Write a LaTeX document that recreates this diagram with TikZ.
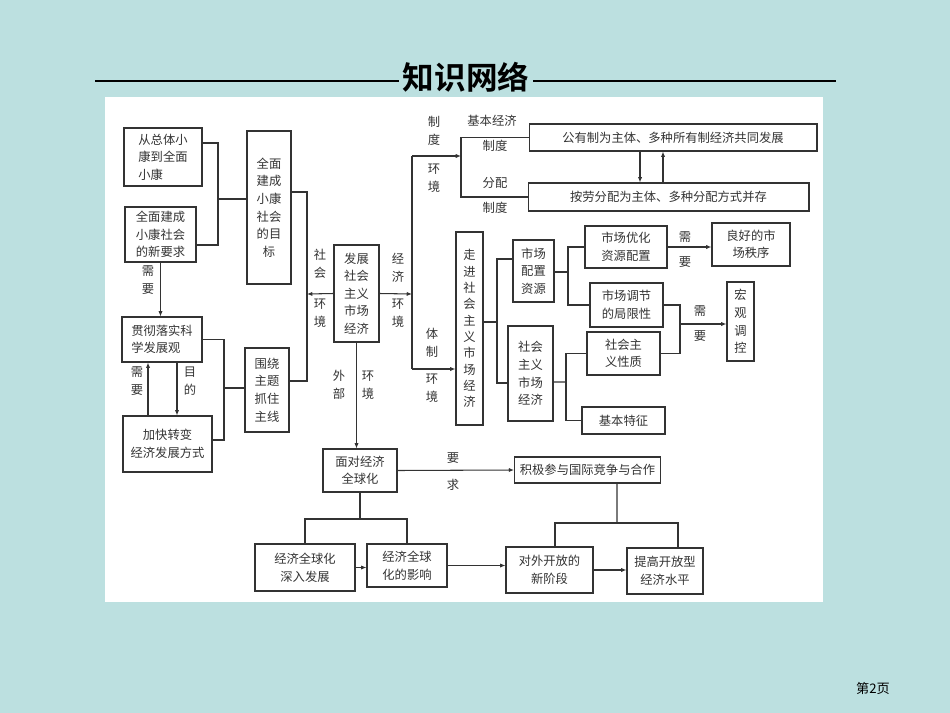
\documentclass[tikz,border=0pt]{standalone}
\usepackage{fontspec}
\setmainfont{Noto Sans CJK SC}[BoldFont={Noto Sans CJK SC Bold}]
\usetikzlibrary{arrows.meta}
\definecolor{pagebg}{HTML}{BCE0E0}
\definecolor{ink}{HTML}{333333}

\begin{document}
\begin{tikzpicture}[
  x=0.02cm, y=-0.02cm,
  font=\fontsize{7pt}{10pt}\selectfont,
  bx/.style={draw=ink, line width=0.6pt, inner sep=1pt, align=center, text=ink},
  lbl/.style={align=center, text=ink, inner sep=0pt},
  line/.style={draw=ink, line width=0.6pt},
  arr/.style={line, -{Latex[length=3pt,width=2.4pt]}}
]
% page and panel
\fill[pagebg] (0,0) rectangle (950,713);
\fill[white] (105,97) rectangle (823,602);
\useasboundingbox (0,0) rectangle (950,713);

% title
\node[inner sep=2pt, font=\fontsize{18pt}{20pt}\selectfont\bfseries] (title) at (466,77) {知识网络};
\draw[line width=1.5pt] (95,81) -- (title.west |- 0,81);
\draw[line width=1.5pt] (title.east |- 0,81) -- (836,81);
\node[font=\fontsize{7.5pt}{9pt}\selectfont] (page) at (873,688) {第2页};

% left part
\node[bx, align=left, minimum width=1.56cm, minimum height=1.16cm] (total) at (163,157) {从总体小\\康到全面\\小康};
\node[bx, minimum width=1.42cm, minimum height=1.10cm] (newreq) at (160.5,234.5) {全面建成\\小康社会\\的新要求};
\node[bx, minimum width=0.88cm, minimum height=3.06cm] (goal) at (269,207.5) {全面\\建成\\小康\\社会\\的目\\标};
\node[bx, align=left, minimum width=1.6cm, minimum height=0.9cm] (sci) at (162,339.5) {贯彻落实科\\学发展观};
\node[bx, minimum width=1.78cm, minimum height=1.12cm] (speed) at (167.5,444) {加快转变\\经济发展方式};
\node[bx, minimum width=0.88cm, minimum height=1.68cm] (theme) at (267,390) {围绕\\主题\\抓住\\主线};
\node[bx, minimum width=0.9cm, minimum height=1.94cm] (dev) at (356.5,293.5) {发展\\社会\\主义\\市场\\经济};

% right top
\node[bx, minimum width=5.76cm, minimum height=0.54cm] (own) at (673,137.5) {公有制为主体、多种所有制经济共同发展};
\node[bx, minimum width=5.62cm, minimum height=0.56cm] (dist) at (668.5,197) {按劳分配为主体、多种分配方式并存};
\node[bx, minimum width=0.54cm, minimum height=3.86cm, font=\fontsize{7pt}{9.3pt}\selectfont] (enter) at (469.5,328.5) {走\\进\\社\\会\\主\\义\\市\\场\\经\\济};
\node[bx, minimum width=0.82cm, minimum height=1.24cm] (alloc) at (533.5,271) {市场\\配置\\资源};
\node[bx, minimum width=0.9cm, minimum height=1.9cm] (socmkt) at (530.5,373.5) {社会\\主义\\市场\\经济};
\node[bx, minimum width=1.64cm, minimum height=0.84cm] (optim) at (626,247) {市场优化\\资源配置};
\node[bx, minimum width=1.46cm, minimum height=0.88cm] (limit) at (626.5,305) {市场调节\\的局限性};
\node[bx, minimum width=1.56cm, minimum height=0.86cm] (order) at (751,244.5) {良好的市\\场秩序};
\node[bx, minimum width=0.54cm, minimum height=1.58cm] (macro) at (740.5,321.5) {宏\\观\\调\\控};
\node[bx, minimum width=1.46cm, minimum height=0.86cm] (nature) at (623.5,353.5) {社会主\\义性质};
\node[bx, minimum width=1.66cm, minimum height=0.54cm] (feature) at (623.5,420.5) {基本特征};

% bottom part
\node[bx, minimum width=1.48cm, minimum height=0.86cm] (face) at (360,470.5) {面对经济\\全球化};
\node[bx, minimum width=2.7cm, minimum height=0.52cm, inner xsep=3pt] (join) at (587.5,470) {积极参与国际竞争与合作};
\node[bx, minimum width=2.0cm, minimum height=0.94cm] (deep) at (305,567.5) {经济全球化\\深入发展};
\node[bx, minimum width=1.6cm, minimum height=0.86cm] (effect) at (407,565.5) {经济全球\\化的影响};
\node[bx, minimum width=1.74cm, minimum height=0.92cm] (open) at (549.5,570) {对外开放的\\新阶段};
\node[bx, minimum width=1.52cm, minimum height=0.92cm] (level) at (665,571) {提高开放型\\经济水平};

% joints
\coordinate (j1) at (218,199);
\coordinate (j2) at (224,388);
\coordinate (j3) at (307,294);
\coordinate (j4) at (412,294);
\coordinate (j5) at (412,156);
\coordinate (j6) at (412,369);
\coordinate (j7) at (461,156);
\coordinate (j8) at (497,322);
\coordinate (j9) at (568,272);
\coordinate (j10) at (680,324);
\coordinate (j11) at (566,382);
\coordinate (j12) at (360,519);
\coordinate (j13) at (617,523);

% connectors left
\draw[line] ([yshift=0.28cm]total.east) -| (j1) |- ([yshift=-0.21cm]newreq.east);
\draw[line] (j1) -- (goal.west |- j1);
\draw[arr] (newreq.south) -- (newreq.south |- sci.north);
\draw[arr] ([xshift=-0.39cm]speed.north) -- ([xshift=-0.39cm]speed.north |- sci.south);
\draw[arr] ([xshift=0.3cm]sci.south) -- ([xshift=0.3cm]sci.south |- speed.north);
\draw[line] (sci.east) -| (j2) |- ([yshift=0.08cm]speed.east);
\draw[line] (j2) -- (theme.west |- j2);
\draw[line] ([yshift=0.31cm]goal.east) -| (j3) |- ([yshift=0.18cm]theme.east);
\draw[arr] (dev.west) -- (j3);
\draw[arr] (dev.east) -- (j4);
\draw[line] (j5) -- (j6);
\draw[arr] (j5) -- (j7);
\draw[line] (own.west) -| (j7) |- (dist.west);
\draw[arr] (j6) -- (enter.west |- j6);
\draw[arr] ([xshift=-0.66cm]own.south) -- ([xshift=-0.66cm]own.south |- dist.north);
\draw[arr] ([xshift=-0.2cm]own.south |- dist.north) -- ([xshift=-0.2cm]own.south);

% connectors right
\draw[line] (enter.east |- j8) -- (j8);
\draw[line] ([yshift=0.24cm]alloc.west) -| (j8) |- ([yshift=-0.19cm]socmkt.west);
\draw[line] (alloc.east |- j9) -- (j9);
\draw[line] (optim.west) -| (j9) |- (limit.west);
\draw[arr] (optim.east) -- (optim.east -| order.west);
\draw[line] (limit.east) -| (j10) |- (nature.east);
\draw[arr] (j10) -- (macro.west |- j10);
\draw[line] ([yshift=-0.17cm]socmkt.east) -- (j11);
\draw[line] (nature.west) -| (j11) |- (feature.west);

% connectors bottom
\draw[arr] (dev.south) -- (dev.south |- face.north);
\draw[arr] (face.east) -- (join.west);
\draw[line] (face.south) -- (j12);
\draw[line] (deep.north) |- (j12) -| (effect.north);
\draw[arr] (deep.east) -- (deep.east -| effect.west);
\draw[arr] (effect.east) -- (effect.east -| open.west);
\draw[line] ([xshift=0.59cm]join.south) -- (j13);
\draw[line] ([xshift=0.11cm]open.north) |- (j13) -| ([xshift=0.26cm]level.north);
\draw[arr] (open.east) -- (open.east -| level.west);

% edge labels
\node[lbl] (l1) at (148,280) {需\\要};
\node[lbl] (l2) at (137,381) {需\\要};
\node[lbl] (l3) at (190,381) {目\\的};
\node[lbl] (l4) at (320,264) {社\\会};
\node[lbl] (l5) at (320,313) {环\\境};
\node[lbl] (l6) at (398,268) {经\\济};
\node[lbl] (l7) at (398,313) {环\\境};
\node[lbl] (l8) at (434,131) {制\\度};
\node[lbl] (l9) at (434,178) {环\\境};
\node[lbl] (l10) at (432,343) {体\\制};
\node[lbl] (l11) at (432,388) {环\\境};
\node[lbl] (l12) at (492,121) {基本经济};
\node[lbl] (l13) at (495,146) {制度};
\node[lbl] (l14) at (495,183) {分配};
\node[lbl] (l15) at (495,208) {制度};
\node[lbl] (l16) at (685,237) {需};
\node[lbl] (l17) at (685,262) {要};
\node[lbl] (l18) at (700,311) {需};
\node[lbl] (l19) at (700,336) {要};
\node[lbl] (l20) at (339,385) {外\\部};
\node[lbl] (l21) at (368,385) {环\\境};
\node[lbl] (l22) at (453,458) {要};
\node[lbl] (l23) at (453,485) {求};
\end{tikzpicture}
\end{document}
